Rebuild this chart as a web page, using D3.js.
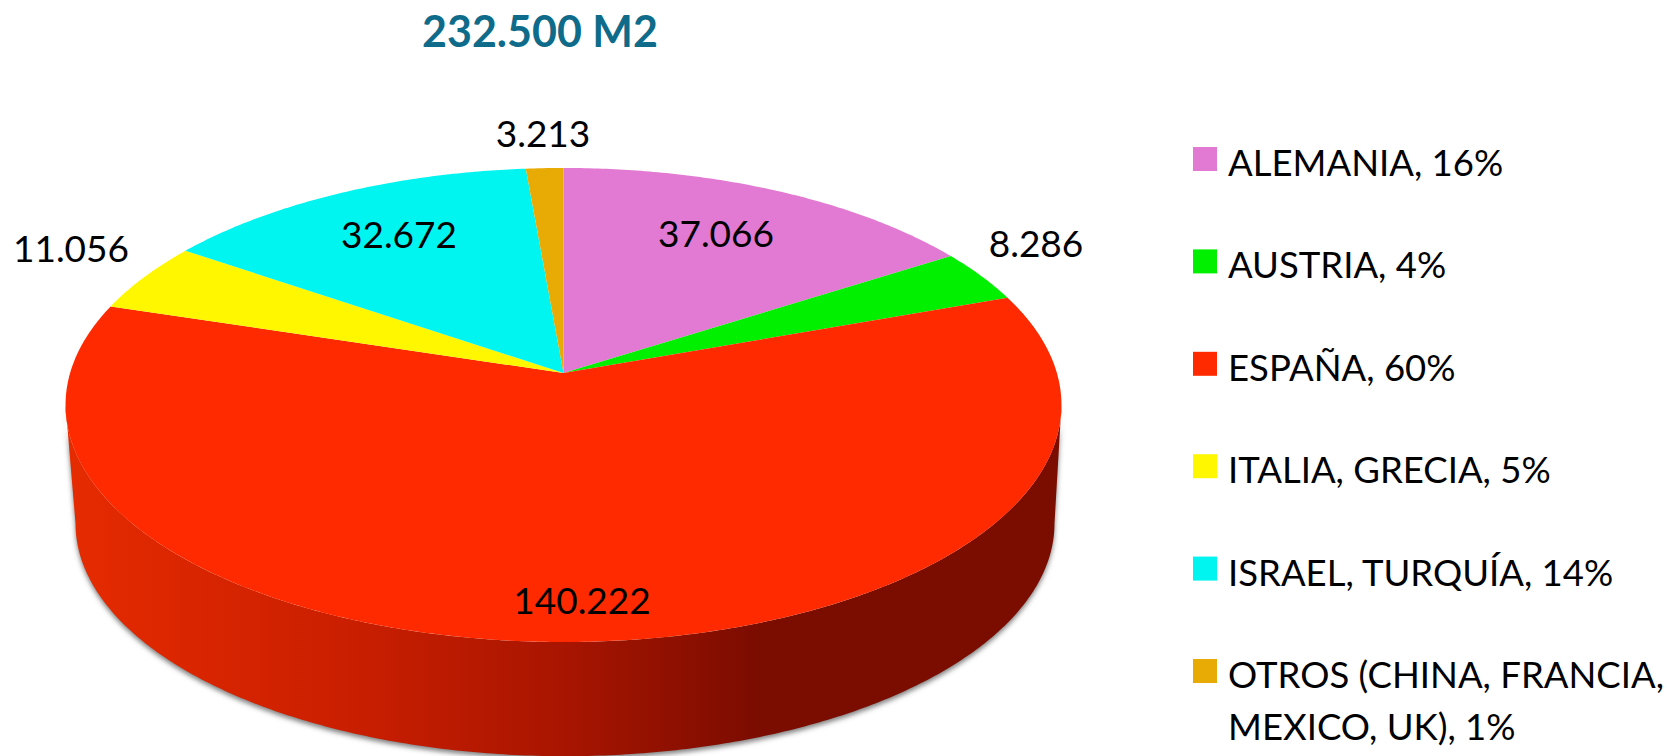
<!DOCTYPE html>
<html>
<head>
<meta charset="utf-8">
<script src="https://cdn.jsdelivr.net/npm/d3@7"></script>
<style>
  html, body { margin: 0; background: #fff; }
  svg { display: block; }
  text { font-family: Lato, "Open Sans", sans-serif; fill: #000; }
</style>
</head>
<body>
<div id="chart"></div>
<script>
// data
const categories = ["ALEMANIA", "AUSTRIA", "ESPAÑA", "ITALIA, GRECIA", "ISRAEL, TURQUÍA", "OTROS (CHINA, FRANCIA, MEXICO, UK)"];
const areas = [37066, 8286, 140222, 11056, 32672, 3213];
const areaLabels = ["37.066", "8.286", "140.222", "11.056", "32.672", "3.213"];
const shares = [16, 4, 60, 5, 14, 1];
const title = "232.500 M2";

const colors = ["#e279d2", "#00f000", "#ff2a00", "#fff700", "#00f4f0", "#e8aa05"];

// value label centre x / baseline y, same order as categories
const labelX = [716, 1036, 582, 71, 399, 543];
const labelY = [247, 257, 614, 262, 248, 147];

const width = 1669, height = 756;

const svg = d3.select("#chart").append("svg")
    .attr("width", width)
    .attr("height", height);

const defs = svg.append("defs");

// shading of the rim, light on the left, dark towards the right
const rimGrad = defs.append("linearGradient")
    .attr("id", "rim")
    .attr("gradientUnits", "userSpaceOnUse")
    .attr("x1", 65).attr("x2", 1062).attr("y1", 0).attr("y2", 0);
[[0, "#e62b00"], [0.3, "#c81e00"], [0.5, "#a81500"], [0.7, "#7a0c00"], [1, "#7a0c00"]].forEach(s => {
    rimGrad.append("stop").attr("offset", s[0]).attr("stop-color", s[1]);
});

defs.append("filter").attr("id", "blur")
    .attr("x", "-5%").attr("y", "-5%").attr("width", "110%").attr("height", "110%")
    .append("feGaussianBlur").attr("stdDeviation", 2.5);

// the pie is a tilted disc: a circle in perspective, so the apex sits above the ellipse centre
const tilt = 0.135;
function project(angle, disc) {
    const u = Math.sin(angle), v = Math.cos(angle);
    const w = 1 + tilt * v;
    return [disc.x + disc.a * u / w, disc.y - disc.b * v / w];
}
const topDisc = { x: 563.5, y: 373, a: 493.4, b: 232.7 };
const bottomDisc = { x: 565, y: 492, a: 485, b: 228.5 };

const pie = d3.pie().sort(null)(areas);
const line = d3.line();

function arcPoints(d, disc) {
    const steps = Math.ceil((d.endAngle - d.startAngle) / 0.01);
    return d3.range(steps + 1).map(i => project(d.startAngle + (d.endAngle - d.startAngle) * i / steps, disc));
}

// rim runs between the left and right extremes of the ellipse, all of it under the big slice
const front = { startAngle: Math.acos(-tilt), endAngle: 2 * Math.PI - Math.acos(-tilt) };
const rimPath = line(arcPoints(front, topDisc).concat(arcPoints(front, bottomDisc).reverse())) + "Z";

svg.append("path")
    .attr("d", rimPath)
    .attr("fill", "#555")
    .attr("fill-opacity", 0.75)
    .attr("transform", "translate(0,3)")
    .attr("filter", "url(#blur)");

svg.append("path")
    .attr("d", rimPath)
    .attr("fill", "url(#rim)");

svg.append("g").selectAll("path")
    .data(pie)
    .enter().append("path")
    .attr("d", d => line([[topDisc.x, topDisc.y]].concat(arcPoints(d, topDisc))) + "Z")
    .attr("fill", (d, i) => colors[i]);

svg.append("g").selectAll("text")
    .data(areaLabels)
    .enter().append("text")
    .attr("x", (d, i) => labelX[i])
    .attr("y", (d, i) => labelY[i])
    .attr("text-anchor", "middle")
    .attr("font-size", 37)
    .text(d => d);

svg.append("text")
    .attr("x", 540)
    .attr("y", 47)
    .attr("text-anchor", "middle")
    .attr("font-size", 43)
    .attr("font-weight", 700)
    .style("fill", "#0f6b8a")
    .text(title);

// legend
const legendY = d3.scalePoint().domain(categories).range([147, 659]);
const legendRows = svg.append("g").selectAll("g")
    .data(categories)
    .enter().append("g")
    .attr("transform", d => `translate(1193,${legendY(d)})`);

legendRows.append("rect")
    .attr("width", 24)
    .attr("height", 24)
    .attr("fill", (d, i) => colors[i]);

legendRows.append("text")
    .attr("x", 35)
    .attr("y", 29)
    .attr("font-size", 36.5)
    .each(function(d, i) {
        const el = d3.select(this);
        if (i === 5) {
            el.append("tspan").text("OTROS (CHINA, FRANCIA,");
            el.append("tspan").attr("x", 35).attr("dy", 52).text(`MEXICO, UK), ${shares[i]}%`);
        } else {
            el.text(`${d}, ${shares[i]}%`);
        }
    });
</script>
</body>
</html>
